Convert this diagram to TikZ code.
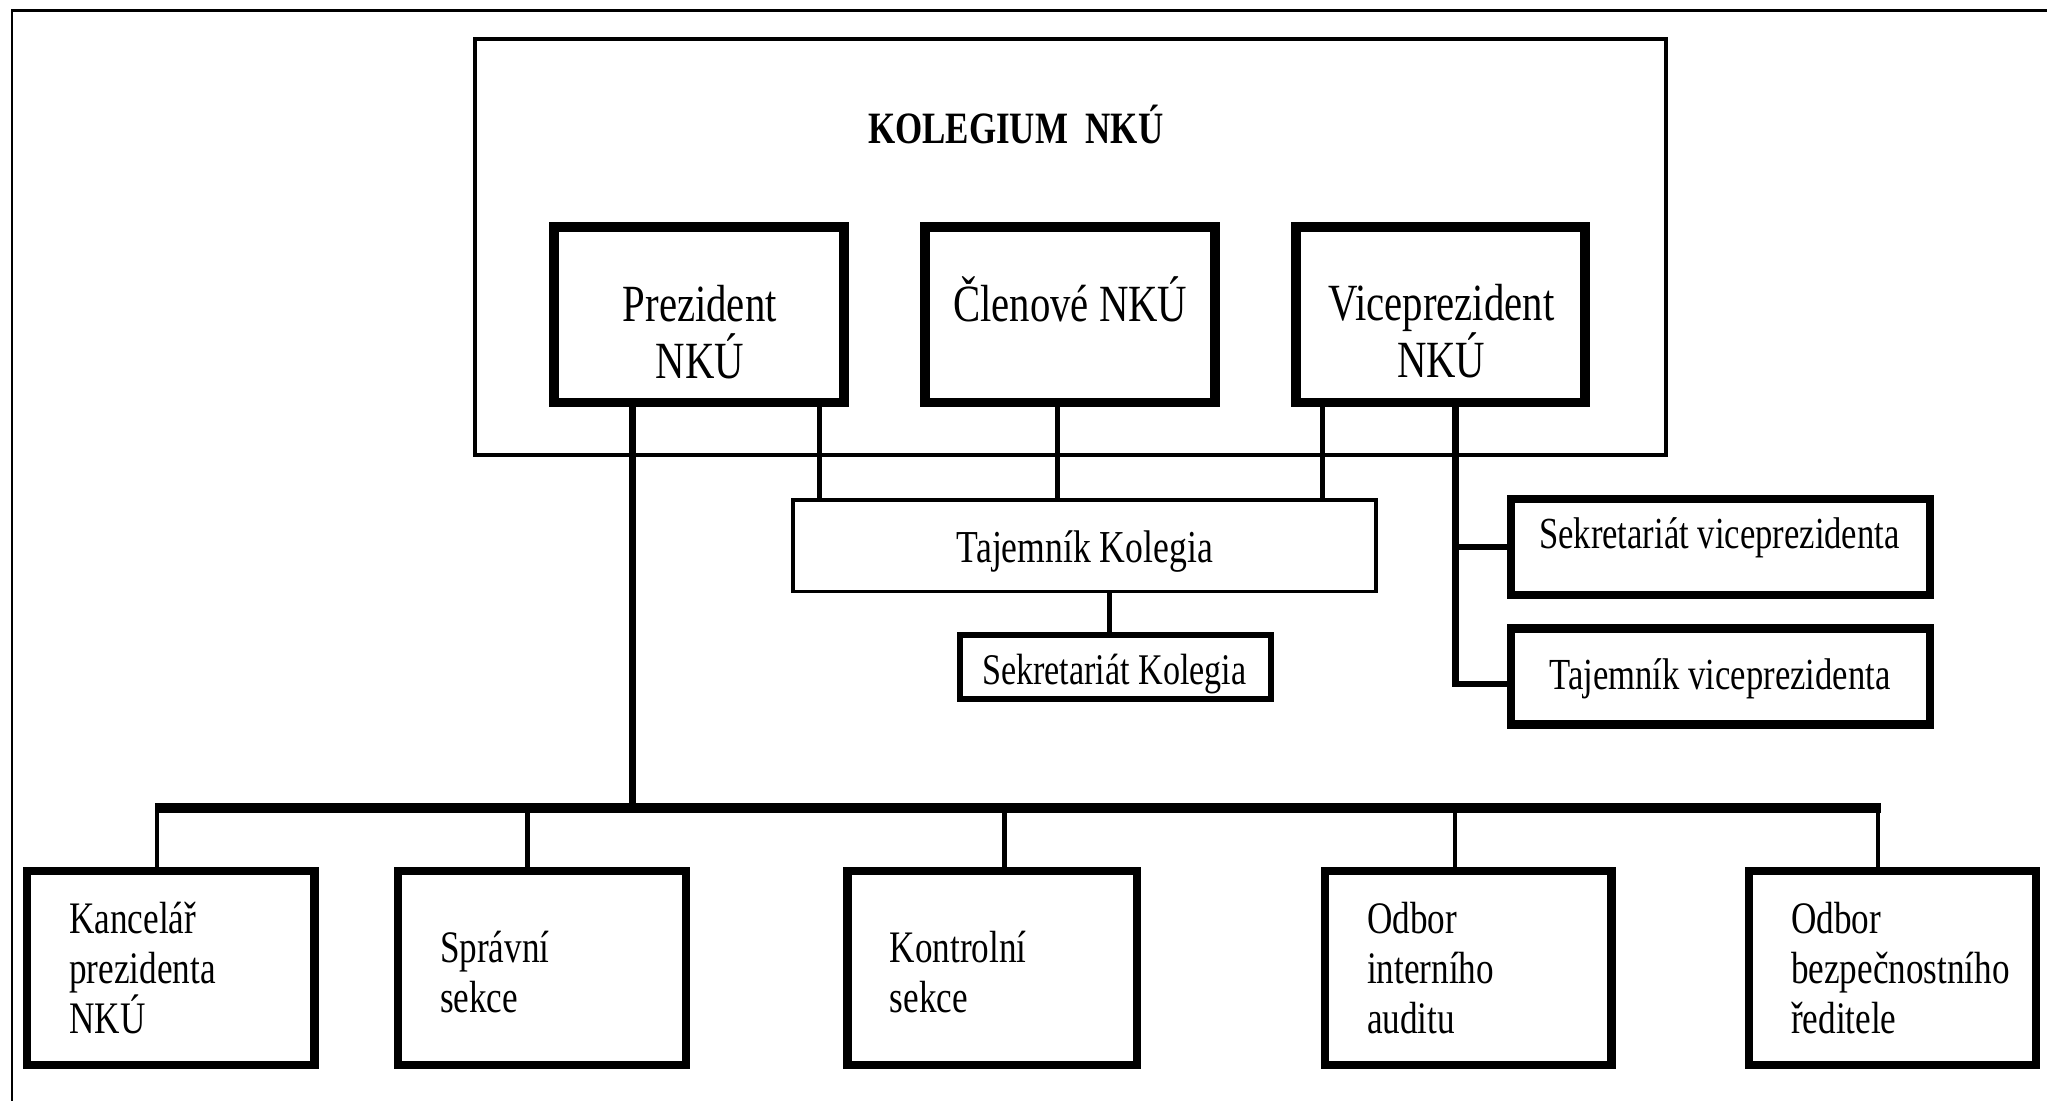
\documentclass[tikz,border=0pt]{standalone}
\usepackage{fontspec}
\setmainfont[FakeStretch=0.78]{Liberation Serif}
\usetikzlibrary{fit}
\newcommand\clines[1]{\vtop{\halign{\hfil##\hfil\cr#1\crcr}}}
\newcommand\llines[1]{\vtop{\halign{##\hfil\cr#1\crcr}}}
\newcommand\fTop{\fontsize{11.38pt}{12.35pt}\selectfont}
\newcommand\fKol{\fontsize{9.76pt}{11pt}\selectfont\bfseries}
\newcommand\fMid{\fontsize{9.67pt}{11pt}\selectfont}
\newcommand\fBot{\fontsize{9.82pt}{10.95pt}\selectfont}
\tikzset{
  kolbox/.style={draw, line width=0.03cm, inner sep=0pt},
  bigbox/.style={draw, line width=0.075cm, inner sep=0pt},
  subbox/.style={draw, line width=0.065cm, inner sep=0pt},
  midbox/.style={draw, line width=0.045cm, inner sep=0pt},
  thinbox/.style={draw, line width=0.028cm, inner sep=0pt},
  txt/.style={inner sep=0pt, anchor=base},
  ltxt/.style={inner sep=0pt, anchor=base west, font=\fBot},
  link/.style={line width=0.038cm},
  droplink/.style={line width=0.034cm},
  buslink/.style={line width=0.082cm},
  trunklink/.style={line width=0.055cm},
  vplink/.style={line width=0.048cm},
  framelink/.style={line width=0.02cm}
}
\begin{document}
\begin{tikzpicture}[x=0.01cm, y=-0.01cm]
\fill[white] (0,0) rectangle (1568,843);
\useasboundingbox (0,0) rectangle (1568,843);

% outer frame
\draw[framelink] (9.3,843) -- (9.3,8.2) -- (1568,8.2);

% Kolegium
\node[kolbox, fit={(364,30) (1276.4,348.3)}] (kol) {};
\node[txt, font=\fKol] (t-kol) at (778,109.8) {KOLEGIUM~~NKÚ};

\node[bigbox, fit={(424.4,173.6) (646.3,308.3)}] (prez) {};
\node[bigbox, fit={(708.8,173.6) (930.8,308.3)}] (clen) {};
\node[bigbox, fit={(992.8,173.6) (1214.3,308.3)}] (vice) {};
\node[txt, font=\fTop] (t-prez) at (536,246.4) {\clines{Prezident\cr NKÚ}};
\node[txt, font=\fTop] (t-clen) at (819.8,246.4) {Členové NKÚ};
\node[txt, font=\fTop] (t-vice) at (1104,245.5) {\clines{Viceprezident\cr NKÚ}};

% secretary boxes
\node[thinbox, fit={(607.4,383) (1054.2,453.1)}] (tajk) {};
\node[txt, font={\fontsize{9.96pt}{11pt}\selectfont}] (t-tajk) at (831,431) {Tajemník Kolegia};
\node[midbox, fit={(735.3,486.3) (973.7,535.5)}] (sekk) {};
\node[txt, font={\fontsize{9.53pt}{11pt}\selectfont}] (t-sekk) at (853.5,524.7) {Sekretariát Kolegia};
\node[subbox, fit={(1157.3,382.3) (1478.3,455.8)}] (sekvp) {};
\node[txt, font=\fMid] (t-sekvp) at (1317,420) {Sekretariát viceprezidenta};
\node[subbox, fit={(1157.3,481.3) (1478.3,554.8)}] (tajvp) {};
\node[txt, font=\fMid] (t-tajvp) at (1317.5,528) {Tajemník viceprezidenta};

% bottom boxes
\node[subbox, fit={(20.7,667.3) (241,815.8)}] (kanc) {};
\node[subbox, fit={(304.7,667.3) (525.3,815.8)}] (sprav) {};
\node[subbox, fit={(649.3,667.3) (870.8,815.8)}] (kontr) {};
\node[subbox, fit={(1014.8,667.3) (1234.4,815.8)}] (odbint) {};
\node[subbox, fit={(1339.6,667.3) (1559.5,815.8)}] (odbbez) {};
\node[ltxt] (t-kanc) at (52.4,714.7) {\llines{Kancelář\cr prezidenta\cr NKÚ}};
\node[ltxt] (t-sprav) at (336.4,737) {\llines{Správní\cr sekce}};
\node[ltxt] (t-kontr) at (681,737) {\llines{Kontrolní\cr sekce}};
\node[ltxt] (t-odbint) at (1046.5,714.7) {\llines{Odbor\cr interního\cr auditu}};
\node[ltxt] (t-odbbez) at (1371.3,714.7) {\llines{Odbor\cr bezpečnostního\cr ředitele}};

% links to Tajemník Kolegia
\coordinate (cx1) at (628,0);
\coordinate (cx2) at (810,0);
\coordinate (cx3) at (1013,0);
\coordinate (cx4) at (850,0);
\draw[link] (prez.south -| cx1) -- (tajk.north -| cx1);
\draw[link] (clen.south -| cx2) -- (tajk.north -| cx2);
\draw[link] (vice.south -| cx3) -- (tajk.north -| cx3);
\draw[link] (tajk.south -| cx4) -- (sekk.north -| cx4);

% vice-president staff
\coordinate (vx) at (1115,0);
\coordinate (vy) at (0,524);
\draw[vplink] (vice.south -| vx) |- (tajvp.west |- vy);
\draw[vplink] (vx |- sekvp.west) -- (sekvp.west);

% president trunk and bus
\coordinate (j0) at (484.5,619);
\coordinate (busL) at (118.7,619);
\coordinate (busR) at (1441,619);
\coordinate (j1) at (120.4,619);
\coordinate (j2) at (404,619);
\coordinate (j3) at (769.3,619);
\coordinate (j4) at (1114.5,619);
\coordinate (j5) at (1438.6,619);
\draw[trunklink] (prez.south -| j0) -- (j0);
\draw[buslink] (busL) -- (busR);
\draw[droplink] (j1) -- (kanc.north -| j1);
\draw[droplink] (j2) -- (sprav.north -| j2);
\draw[droplink] (j3) -- (kontr.north -| j3);
\draw[droplink] (j4) -- (odbint.north -| j4);
\draw[droplink] (j5) -- (odbbez.north -| j5);
\end{tikzpicture}
\end{document}
